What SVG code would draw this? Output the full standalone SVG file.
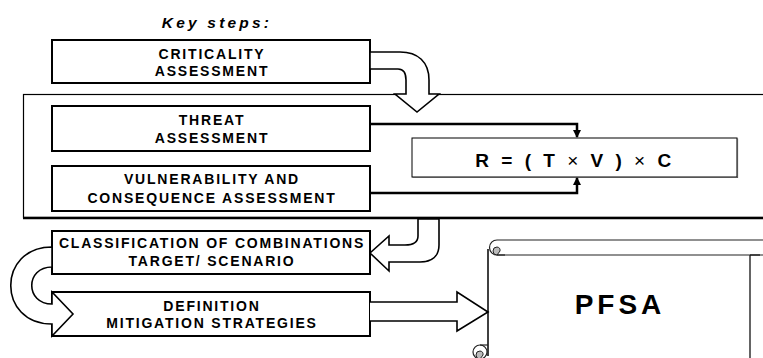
<svg xmlns="http://www.w3.org/2000/svg" width="763" height="358" viewBox="0 0 763 358">
<style>
.box{fill:#fff;stroke:#000;stroke-width:2}
.lbl{font-family:"Liberation Sans",Arial,sans-serif;font-weight:bold;font-size:14px;letter-spacing:1.8px;text-anchor:middle;fill:#000}
.blk{fill:#fff;stroke:#000;stroke-width:1.6;stroke-linejoin:miter}
.wire{fill:none;stroke:#000;stroke-width:2.5}
.scr{fill:#fff;stroke:#222;stroke-width:1.2}
</style>
<defs>
<marker id="ah" viewBox="0 0 8 8" refX="7" refY="4" markerWidth="8" markerHeight="8" markerUnits="userSpaceOnUse" orient="auto">
<path d="M0,0 L8,4 L0,8 Z" fill="#000"/>
</marker>
</defs>
<text x="217" y="28" font-family="Liberation Sans,Arial,sans-serif" font-weight="bold" font-style="italic" font-size="15.5" letter-spacing="3.2" text-anchor="middle">Key steps:</text>

<g id="container">
<rect x="23.5" y="94.5" width="800" height="123" fill="#fff" stroke="#000" stroke-width="1.2"/>
<line x1="23" y1="218" x2="763" y2="218" stroke="#000" stroke-width="2.5"/>
</g>

<g id="criticality">
<rect class="box" x="52" y="40" width="318" height="43"/>
<text class="lbl" x="212" y="59">CRITICALITY</text>
<text class="lbl" x="212" y="76">ASSESSMENT</text>
</g>

<g id="threat">
<rect class="box" x="52" y="106" width="318" height="45"/>
<text class="lbl" x="212" y="125">THREAT</text>
<text class="lbl" x="212" y="143">ASSESSMENT</text>
</g>

<g id="vulnerability">
<rect class="box" x="52" y="166" width="318" height="45"/>
<text class="lbl" x="212" y="184">VULNERABILITY AND</text>
<text class="lbl" x="212" y="203">CONSEQUENCE ASSESSMENT</text>
</g>

<g id="formula">
<rect x="412" y="138" width="325" height="39" fill="#fff" stroke="#000" stroke-width="1"/>
<polyline points="737.5,138.5 737.5,177.5 412.5,177.5" fill="none" stroke="#555" stroke-width="1.2"/>
<text x="575" y="167" font-family="Liberation Sans,Arial,sans-serif" font-weight="bold" font-size="19" letter-spacing="3.5" text-anchor="middle">R = ( T <tspan font-weight="normal">×</tspan> V ) <tspan font-weight="normal">×</tspan> C</text>
</g>

<g id="classification">
<rect class="box" x="52" y="231" width="318" height="43"/>
<text class="lbl" x="212" y="248">CLASSIFICATION OF COMBINATIONS</text>
<text class="lbl" x="212" y="266">TARGET/ SCENARIO</text>
</g>

<g id="definition">
<rect class="box" x="52" y="292" width="318" height="44"/>
<text class="lbl" x="212" y="311">DEFINITION</text>
<text class="lbl" x="212" y="328">MITIGATION STRATEGIES</text>
</g>

<g id="pfsa">
<path d="M488,352 L488,248 L750,248 L750,362 L488,362 Z" fill="#fff"/>
<line x1="488" y1="249" x2="488" y2="356" stroke="#000" stroke-width="1.5"/>
<line x1="750" y1="255" x2="750" y2="358" stroke="#111" stroke-width="1.3"/>
<path class="scr" d="M497,240 L770,240 L770,255 L497,255 A7.5,7.5 0 0 1 497,240 Z"/>
<path d="M750,255 L760,255" stroke="#111" stroke-width="1.2"/>
<path d="M497,255 A4,4 0 0 1 497,247 A3.5,3.5 0 0 1 500,251 Z" fill="#bbb" stroke="#222" stroke-width="1"/>
<line x1="497" y1="255" x2="505" y2="255" stroke="#222" stroke-width="1.2"/>
<circle cx="480" cy="352" r="7" fill="#fff" stroke="#222" stroke-width="1.2"/>
<path d="M480,359 A4,4 0 0 1 480,351 A3.5,3.5 0 0 1 483,355 Z" fill="#bbb" stroke="#222" stroke-width="1"/>
<line x1="480" y1="345" x2="488" y2="345" stroke="#222" stroke-width="1.2"/>
<text x="620" y="314" font-family="Liberation Sans,Arial,sans-serif" font-weight="bold" font-size="28" letter-spacing="4" text-anchor="middle">PFSA</text>
</g>

<g id="connectors">
<path class="blk" d="M370,52 L400,52 C418,52 429,62 429,80 L429,94 L439,94 L417,112 L395,94 L406,94 L406,80 C406,73 404,69 398,69 L370,69 Z"/>
<path class="wire" d="M370,124 L577,124 L577,137" marker-end="url(#ah)"/>
<path class="wire" d="M370,193 L577,193 L577,178" marker-end="url(#ah)"/>
<path class="blk" d="M418,219 L418,236 C418,243 413,245 405,245 L389,245 L389,236 L370,253 L389,271 L389,262 L420,262 C432,262 439,256 439,245 L439,219 Z"/>
<path class="blk" d="M52,247 C-3,247 -3,324 52,324 L52,336 L73,314 L52,292 L52,304 C25,304 25,267 52,267 Z"/>
<path class="blk" d="M370,302 L457,302 L457,292 L488,312 L457,331 L457,321 L370,321"/>
</g>
</svg>
